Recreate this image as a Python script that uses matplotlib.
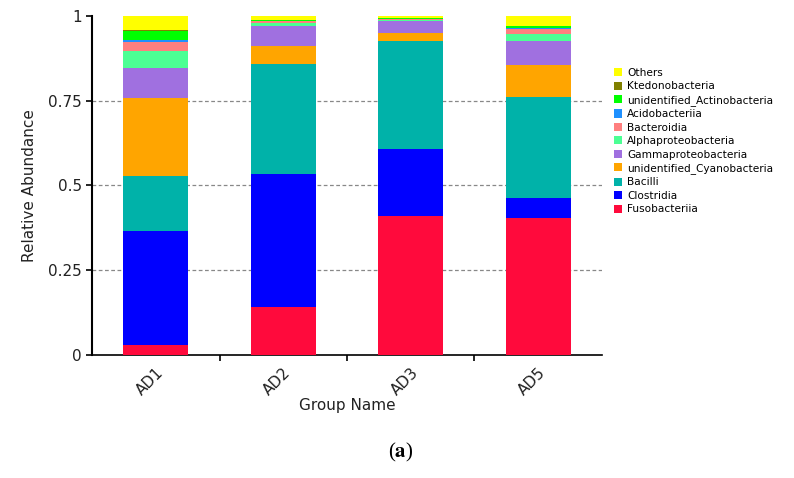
import matplotlib.pyplot as plt
import numpy as np

groups = ['AD1', 'AD2', 'AD3', 'AD5']

# bottom to top in the stack
taxa = ['Fusobacteriia', 'Clostridia', 'Bacilli', 'unidentified_Cyanobacteria',
        'Gammaproteobacteria', 'Alphaproteobacteria', 'Bacteroidia',
        'Acidobacteriia', 'unidentified_Actinobacteria', 'Ktedonobacteria', 'Others']
colors = ['#FF0A3C', '#0000FF', '#00B2A9', '#FFA500', '#A070E0', '#4CFF94',
          '#FF7F7F', '#1E90FF', '#00FF00', '#808000', '#FFFF00']

fuso = [0.030, 0.143, 0.411, 0.403]
clostridia = [0.336, 0.390, 0.197, 0.059]
bacilli = [0.163, 0.325, 0.318, 0.299]
cyano = [0.228, 0.054, 0.023, 0.095]
gamma = [0.090, 0.059, 0.035, 0.071]
alpha = [0.050, 0.007, 0.005, 0.019]
bacteroidia = [0.027, 0.006, 0.001, 0.016]
acido = [0.006, 0.001, 0.0005, 0.001]
actino = [0.024, 0.002, 0.003, 0.007]
ktedono = [0.003, 0.001, 0.0005, 0.001]
others = [0.043, 0.012, 0.006, 0.029]

values = [fuso, clostridia, bacilli, cyano, gamma, alpha, bacteroidia,
          acido, actino, ktedono, others]

plt.rcParams['mathtext.fontset'] = 'stix'

fig = plt.figure(figsize=(7.94, 4.78), dpi=100)
ax = fig.add_axes([0.116, 0.257, 0.642, 0.710])

x = np.arange(len(groups))
bottom = np.zeros(len(groups))
handles = []
for name, vals, c in zip(taxa, values, colors):
    b = ax.bar(x, vals, 0.51, bottom=bottom, color=c, label=name, zorder=3)
    handles.append(b)
    bottom += np.array(vals)

ax.set_xlim(-0.5, 3.5)
ax.set_ylim(0, 1)
ax.set_yticks([0, 0.25, 0.5, 0.75, 1])
ax.set_yticklabels(['0', '0.25', '0.5', '0.75', '1'], fontsize=11, color='#222222')
for yv in [0.25, 0.5, 0.75]:
    ax.axhline(yv, color='#888888', ls=(0, (3, 2)), lw=0.9, zorder=1)

ax.set_xticks(x)
ax.set_xticklabels(groups, rotation=45, fontsize=11, ha='right',
                   rotation_mode='anchor', color='#222222')
ax.tick_params(axis='x', which='major', length=0, pad=7)
ax.set_xticks([0.5, 1.5, 2.5], minor=True)
ax.tick_params(axis='x', which='minor', length=4, width=1.2)
ax.tick_params(axis='y', length=4, width=1.2)

for s in ['top', 'right']:
    ax.spines[s].set_visible(False)
ax.spines['left'].set_linewidth(1.5)
ax.spines['bottom'].set_linewidth(1.2)

ax.set_xlabel('Group Name', fontsize=11, labelpad=0, color='#222222')
ax.set_ylabel('Relative Abundance', fontsize=11, labelpad=8, color='#222222')

leg = fig.legend(handles[::-1], taxa[::-1], loc='upper left',
                 bbox_to_anchor=(0.768, 0.867), frameon=False, fontsize=7.6,
                 handlelength=0.8, handleheight=0.8, handletextpad=0.45,
                 labelspacing=0.33, borderaxespad=0)

fig.text(0.505, 0.053, r'($\mathbf{a}$)', ha='center', va='center',
         fontsize=15, family='Liberation Serif')

fig.savefig('out.png', dpi=100)
